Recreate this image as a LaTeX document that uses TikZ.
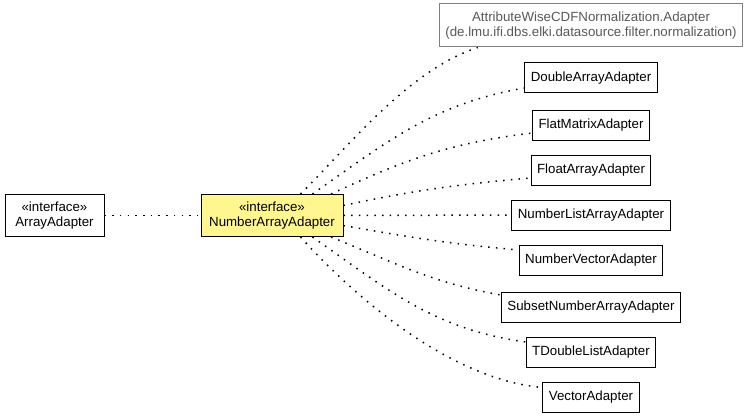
\documentclass[tikz,border=0pt]{standalone}
\usepackage{fontspec}
\setmainfont{Liberation Sans}
\definecolor{ifacefill}{HTML}{FFF68F}
\begin{document}
\begin{tikzpicture}[x=1pt, y=1pt,
  every node/.style={font=\fontsize{13.3}{15.5}\selectfont, align=center},
  cls/.style={draw, line width=1pt, fill=white, inner xsep=6pt, inner ysep=0pt, minimum height=30pt},
  iface/.style={cls, minimum height=42pt},
  ext/.style={cls, draw=gray, text=black!65, minimum height=43pt},
  dep/.style={draw, line width=1.5pt, dash pattern=on 1.5pt off 6.2pt}
]
\useasboundingbox (0,0) rectangle (755,416);

% Interfaces
\node[iface, minimum width=99pt] (arr) at (54.5, 200.5) {«interface»\\ArrayAdapter};
\node[iface, fill=ifacefill, minimum width=142pt] (nad) at (272, 200.5) {«interface»\\NumberArrayAdapter};

% Implementations
\node[ext] (cdf) at (591, 390.5) {AttributeWiseCDFNormalization.Adapter\\(de.lmu.ifi.dbs.elki.datasource.filter.normalization)};
\node[cls] (dbl) at (591, 338) {DoubleArrayAdapter};
\node[cls] (flat) at (591, 291) {FlatMatrixAdapter};
\node[cls] (flt) at (591, 246) {FloatArrayAdapter};
\node[cls] (nla) at (591, 201) {NumberListArrayAdapter};
\node[cls] (nva) at (591, 156) {NumberVectorAdapter};
\node[cls] (sna) at (591, 109) {SubsetNumberArrayAdapter};
\node[cls] (tdl) at (591, 64) {TDoubleListAdapter};
\node[cls] (vec) at (591, 18.5) {VectorAdapter};

% Lines between the interfaces
\draw[dep] (arr) -- (nad);

% Lines to the implementations
\draw[dep] (nad.37) to[out=45, in=198, looseness=0.8] (cdf.191.5);
\draw[dep] (nad.28) to[out=35, in=190] ([yshift=-10pt]dbl.west);
\draw[dep] (nad.20) to[out=25, in=187] ([yshift=-8pt]flat.west);
\draw[dep] (nad.8) to[out=12, in=185] ([yshift=-8pt]flt.west);
\draw[dep] (nad) -- (nla);
\draw[dep] (nad.-8) to[out=-10, in=175] ([yshift=10pt]nva.west);
\draw[dep] (nad.-20) to[out=-22, in=170] ([yshift=12pt]sna.west);
\draw[dep] (nad.-28) to[out=-35, in=172] ([yshift=10pt]tdl.west);
\draw[dep] (nad.-37) to[out=-48, in=175, looseness=0.8] ([yshift=10pt]vec.west);

\end{tikzpicture}
\end{document}
